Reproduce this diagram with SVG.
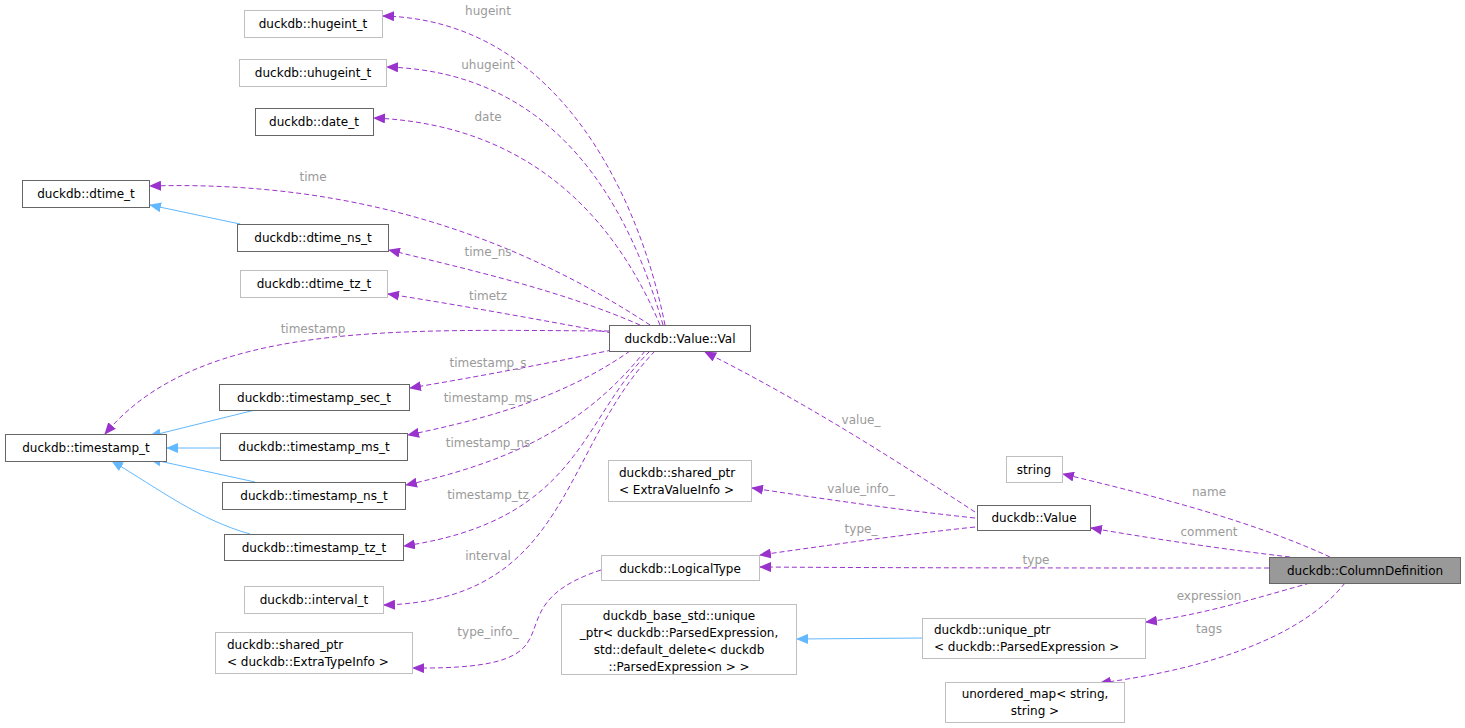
<svg xmlns="http://www.w3.org/2000/svg" width="1465" height="728" viewBox="0 0 1465 728">
<style>
text{font-family:"DejaVu Sans",sans-serif;font-size:12px}
.n{fill:#fff;stroke:#666}
.g{fill:#fff;stroke:#bfbfbf}
.t{fill:#000;text-anchor:middle}
.l{fill:#9a9a9a;text-anchor:middle}
.e{fill:none;stroke:#9a32cd;stroke-dasharray:5,3;marker-end:url(#pa)}
.i{fill:none;stroke:#63b8ff;marker-end:url(#ba)}
</style>
<defs>
<marker id="pa" markerWidth="12" markerHeight="10" refX="11" refY="5" orient="auto" markerUnits="userSpaceOnUse"><path d="M0,0L12,5L0,10z" fill="#9a32cd"/></marker>
<marker id="ba" markerWidth="12" markerHeight="10" refX="11" refY="5" orient="auto" markerUnits="userSpaceOnUse"><path d="M0,0L12,5L0,10z" fill="#63b8ff"/></marker>
</defs>
<rect width="1465" height="728" fill="#fff"/>
<g id="edges">
<path class="e" d="M665,325C640,200 560,20 383,16"/>
<path class="e" d="M663,325C630,210 560,72 387,67"/>
<path class="e" d="M660,325C620,230 540,125 374,118"/>
<path class="e" d="M650,325C520,240 360,180 150,186"/>
<path class="e" d="M640,325C560,290 470,270 389,250"/>
<path class="e" d="M612,333C540,320 460,305 388,294"/>
<path class="e" d="M609,331C400,330 200,320 105,434"/>
<path class="e" d="M612,350C540,365 470,378 410,388"/>
<path class="e" d="M630,351C560,400 480,420 408,435"/>
<path class="e" d="M645,351C590,420 520,460 406,485"/>
<path class="e" d="M650,351C580,420 580,520 404,546"/>
<path class="e" d="M655,351C560,450 570,600 384,605"/>
<path class="e" d="M975,518C900,510 830,500 752,488"/>
<path class="e" d="M975,512C880,450 800,400 705,352"/>
<path class="e" d="M975,527C900,535 830,545 760,555"/>
<path class="e" d="M601,570C480,610 600,670 413,668"/>
<path class="e" d="M1330,557C1250,520 1150,495 1063,474"/>
<path class="e" d="M1290,557C1230,550 1160,540 1091,528"/>
<path class="e" d="M1269,568C1100,568 900,568 760,567"/>
<path class="e" d="M1310,583C1250,600 1200,615 1146,622"/>
<path class="e" d="M1345,583C1300,640 1200,670 1100,683"/>
<path class="i" d="M240,224L150,205"/>
<path class="i" d="M255,410L150,436"/>
<path class="i" d="M220,448L167,448"/>
<path class="i" d="M255,482L150,459"/>
<path class="i" d="M250,534C200,520 160,490 112,461"/>
<path class="i" d="M922,638L797,639"/>
</g>
<g id="labels">
<text class="l" x="488" y="15">hugeint</text>
<text class="l" x="488" y="69">uhugeint</text>
<text class="l" x="488" y="121">date</text>
<text class="l" x="313" y="181">time</text>
<text class="l" x="488" y="256">time_ns</text>
<text class="l" x="488" y="300">timetz</text>
<text class="l" x="313" y="333">timestamp</text>
<text class="l" x="488" y="367">timestamp_s</text>
<text class="l" x="488" y="402">timestamp_ms</text>
<text class="l" x="488" y="447">timestamp_ns</text>
<text class="l" x="488" y="499">timestamp_tz</text>
<text class="l" x="488" y="560">interval</text>
<text class="l" x="488" y="636">type_info_</text>
<text class="l" x="861" y="424">value_</text>
<text class="l" x="861" y="493">value_info_</text>
<text class="l" x="861" y="533">type_</text>
<text class="l" x="1209" y="496">name</text>
<text class="l" x="1209" y="536">comment</text>
<text class="l" x="1036" y="564">type</text>
<text class="l" x="1209" y="600">expression</text>
<text class="l" x="1209" y="633">tags</text>
</g>
<g id="n1"><rect class="g" x="244.5" y="10.5" width="138" height="27"/><text class="t" x="313" y="28">duckdb::hugeint_t</text></g>
<g id="n2"><rect class="g" x="239.5" y="59.5" width="147" height="27"/><text class="t" x="313" y="77">duckdb::uhugeint_t</text></g>
<g id="n3"><rect class="n" x="255.5" y="108.5" width="118" height="27"/><text class="t" x="314" y="126">duckdb::date_t</text></g>
<g id="n4"><rect class="n" x="22.5" y="180.5" width="127" height="27"/><text class="t" x="86" y="198">duckdb::dtime_t</text></g>
<g id="n5"><rect class="n" x="237.5" y="224.5" width="151" height="27"/><text class="t" x="313" y="242">duckdb::dtime_ns_t</text></g>
<g id="n6"><rect class="g" x="240.5" y="270.5" width="147" height="27"/><text class="t" x="314" y="288">duckdb::dtime_tz_t</text></g>
<g id="n7"><rect class="n" x="609.5" y="325.5" width="141" height="26"/><text class="t" x="680" y="343">duckdb::Value::Val</text></g>
<g id="n8"><rect class="n" x="5.5" y="434.5" width="161" height="27"/><text class="t" x="86" y="452">duckdb::timestamp_t</text></g>
<g id="n9"><rect class="n" x="219.5" y="384.5" width="190" height="26"/><text class="t" x="314" y="402">duckdb::timestamp_sec_t</text></g>
<g id="n10"><rect class="n" x="220.5" y="433.5" width="187" height="27"/><text class="t" x="314" y="451">duckdb::timestamp_ms_t</text></g>
<g id="n11"><rect class="n" x="222.5" y="482.5" width="183" height="27"/><text class="t" x="314" y="500">duckdb::timestamp_ns_t</text></g>
<g id="n12"><rect class="n" x="224.5" y="534.5" width="179" height="26"/><text class="t" x="314" y="552">duckdb::timestamp_tz_t</text></g>
<g id="n13"><rect class="g" x="244.5" y="586.5" width="139" height="27"/><text class="t" x="314" y="604">duckdb::interval_t</text></g>
<g id="n14"><rect class="g" x="215.5" y="632.5" width="197" height="41"/><text x="227" y="649">duckdb::shared_ptr</text><text x="227" y="666">&lt; duckdb::ExtraTypeInfo &gt;</text></g>
<g id="n15"><rect class="g" x="608.5" y="460.5" width="143" height="41"/><text x="619" y="477">duckdb::shared_ptr</text><text x="619" y="494">&lt; ExtraValueInfo &gt;</text></g>
<g id="n16"><rect class="g" x="601.5" y="555.5" width="158" height="25"/><text class="t" x="680" y="573">duckdb::LogicalType</text></g>
<g id="n17"><rect class="g" x="561.5" y="604.5" width="235" height="70"/><text class="t" x="679" y="620">duckdb_base_std::unique</text><text class="t" x="679" y="637">_ptr&lt; duckdb::ParsedExpression,</text><text class="t" x="679" y="654">std::default_delete&lt; duckdb</text><text class="t" x="679" y="671">::ParsedExpression &gt; &gt;</text></g>
<g id="n18"><rect class="g" x="1006.5" y="456.5" width="56" height="26"/><text class="t" x="1034" y="474">string</text></g>
<g id="n19"><rect class="n" x="977.5" y="505.5" width="113" height="25"/><text class="t" x="1034" y="522">duckdb::Value</text></g>
<g id="n20"><rect x="1269.5" y="557.5" width="191" height="26" fill="#999" stroke="#666"/><text class="t" x="1365" y="575">duckdb::ColumnDefinition</text></g>
<g id="n21"><rect class="g" x="922.5" y="618.5" width="223" height="40"/><text x="934" y="634">duckdb::unique_ptr</text><text x="934" y="651">&lt; duckdb::ParsedExpression &gt;</text></g>
<g id="n22"><rect class="g" x="945.5" y="682.5" width="179" height="40"/><text class="t" x="1035" y="698">unordered_map&lt; string,</text><text class="t" x="1035" y="715">string &gt;</text></g>
</svg>
